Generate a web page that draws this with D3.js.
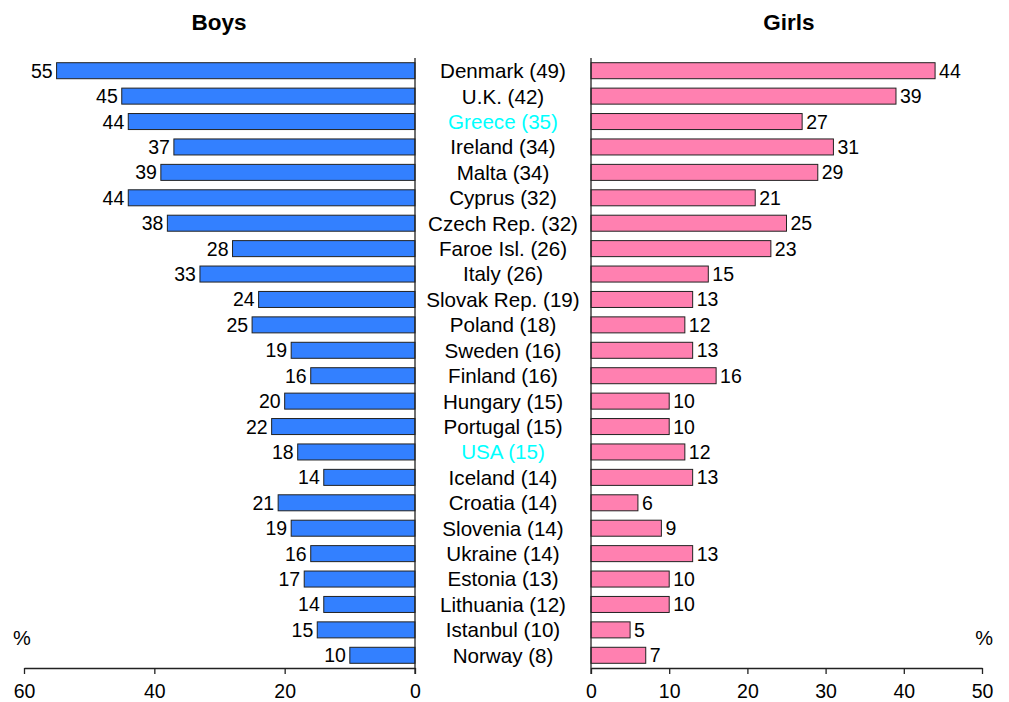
<!DOCTYPE html>
<html><head><meta charset="utf-8">
<script src="https://cdn.jsdelivr.net/npm/d3@7"></script>
<style>body{margin:0;background:#fff}svg{display:block;font-family:"Liberation Sans",Arial,sans-serif}</style>
</head><body>
<svg id="c" width="1009" height="702"></svg>
<script>
const countries = ["Denmark (49)","U.K. (42)","Greece (35)","Ireland (34)","Malta (34)","Cyprus (32)","Czech Rep. (32)","Faroe Isl. (26)","Italy (26)","Slovak Rep. (19)","Poland (18)","Sweden (16)","Finland (16)","Hungary (15)","Portugal (15)","USA (15)","Iceland (14)","Croatia (14)","Slovenia (14)","Ukraine (14)","Estonia (13)","Lithuania (12)","Istanbul (10)","Norway (8)"];
const boys = [55,45,44,37,39,44,38,28,33,24,25,19,16,20,22,18,14,21,19,16,17,14,15,10];
const girls = [44,39,27,31,29,21,25,23,15,13,12,13,16,10,10,12,13,6,9,13,10,10,5,7];
const highlighted = ["Greece (35)","USA (15)"];
const boysTicks = [0,20,40,60];
const girlsTicks = [0,10,20,30,40,50];

(function(){
const svg = d3.select("#c");
const yTop = 58, yBot = 668;
const y = d3.scaleBand().domain(countries).range([yTop, yBot]).paddingInner(0.37).paddingOuter(0.185);
const xL = d3.scaleLinear().domain([0,60]).range([415,24]);
const xR = d3.scaleLinear().domain([0,50]).range([591,982]);

// bars
svg.append("g").selectAll("rect").data(countries).join("rect")
  .attr("x", (d,i)=>xL(boys[i])).attr("y", d=>y(d))
  .attr("width",(d,i)=>xL(0)-xL(boys[i])).attr("height", y.bandwidth())
  .attr("fill","#3380ff").attr("stroke","#222").attr("stroke-width",1);
svg.append("g").selectAll("rect").data(countries).join("rect")
  .attr("x", xR(0)).attr("y", d=>y(d))
  .attr("width",(d,i)=>xR(girls[i])-xR(0)).attr("height", y.bandwidth())
  .attr("fill","#ff80b0").attr("stroke","#222").attr("stroke-width",1);

// value labels
svg.append("g").selectAll("text").data(countries).join("text")
  .attr("x",(d,i)=>xL(boys[i])-4).attr("y",d=>y(d)+y.bandwidth()/2).attr("dy","0.36em")
  .attr("text-anchor","end").attr("font-size","19.5px").attr("fill","#000")
  .text((d,i)=>boys[i]);
svg.append("g").selectAll("text").data(countries).join("text")
  .attr("x",(d,i)=>xR(girls[i])+4).attr("y",d=>y(d)+y.bandwidth()/2).attr("dy","0.36em")
  .attr("text-anchor","start").attr("font-size","19.5px").attr("fill","#000")
  .text((d,i)=>girls[i]);

// country labels
svg.append("g").selectAll("text").data(countries).join("text")
  .attr("x",503).attr("y",d=>y(d)+y.bandwidth()/2).attr("dy","0.36em")
  .attr("text-anchor","middle").attr("font-size","20.6px")
  .attr("fill",d=>highlighted.includes(d)?"#00ffff":"#000")
  .text(d=>d);

// vertical baselines
[415,591].forEach(x=>svg.append("line").attr("x1",x).attr("x2",x).attr("y1",yTop).attr("y2",674)
  .attr("stroke","#222").attr("stroke-width",1.3));

// axes
const axL = svg.append("g").attr("transform",`translate(0,${yBot})`)
  .call(d3.axisBottom(xL).tickValues(boysTicks).tickSize(6).tickSizeOuter(0).tickPadding(10));
const axR = svg.append("g").attr("transform",`translate(0,${yBot})`)
  .call(d3.axisBottom(xR).tickValues(girlsTicks).tickSize(6).tickSizeOuter(0).tickPadding(10));
[axL,axR].forEach(a=>{
  a.select(".domain").attr("stroke","#222").attr("stroke-width",1.3);
  a.selectAll(".tick line").attr("stroke","#222").attr("stroke-width",1.3);
  a.selectAll(".tick text").attr("font-size","19.5px").attr("fill","#000")
   .attr("font-family","Liberation Sans, Arial, sans-serif");
});

// % labels
svg.append("text").attr("x",13).attr("y",645).attr("font-size","20px").text("%");
svg.append("text").attr("x",993).attr("y",645).attr("text-anchor","end").attr("font-size","20px").text("%");

// titles
svg.append("text").attr("x",219).attr("y",30).attr("text-anchor","middle").attr("font-size","22.5px").attr("font-weight","bold").text("Boys");
svg.append("text").attr("x",789).attr("y",30).attr("text-anchor","middle").attr("font-size","22.5px").attr("font-weight","bold").text("Girls");
})();
</script>
</body></html>
